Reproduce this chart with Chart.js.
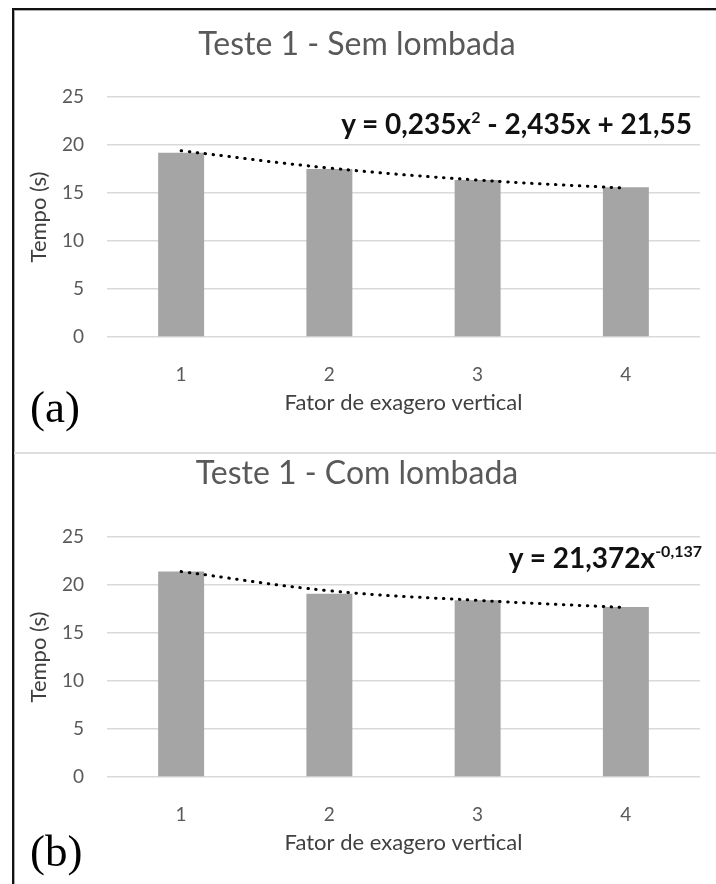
<!DOCTYPE html>
<html>
<head>
<meta charset="utf-8">
<script src="https://cdn.jsdelivr.net/npm/chart.js@4"></script>
<style>
  html, body { margin: 0; padding: 0; background: #fff; }
  body { width: 716px; height: 884px; position: relative; overflow: hidden; font-family: Lato, sans-serif; }
  .frame { position: absolute; left: 12px; top: 8px; right: 0; bottom: 0; border-top: 2px solid #111; border-left: 2px solid #111; }
  .frame::after { content: ""; position: absolute; left: 0; top: 0; right: 0; bottom: 0; border-top: 1px solid #aaa; border-left: 1px solid #aaa; }
  .divider { position: absolute; left: 14px; right: 0; top: 452px; height: 2px; background: #dedede; }
  .panel { position: absolute; left: 14px; width: 702px; }
  .eq { position: absolute; font-weight: bold; color: #111; white-space: nowrap; font-size: 28px; line-height: 1; }
  .eq sup { font-size: 16px; vertical-align: 11px; }
  .tag { position: absolute; left: 30px; font-family: "Liberation Serif", serif; font-size: 45px; line-height: 1; color: #000; }
</style>
</head>
<body>
<div class="frame"></div>
<div class="panel" style="top:10px;height:440px"><canvas id="chartA"></canvas></div>
<div class="divider"></div>
<div class="panel" style="top:450px;height:434px"><canvas id="chartB"></canvas></div>
<div class="eq" style="right:24px;top:109px">y = 0,235x<sup>2</sup> - 2,435x + 21,55</div>
<div class="eq" style="right:14px;top:543px">y = 21,372x<sup>-0,137</sup></div>
<div class="tag" style="top:385px">(a)</div>
<div class="tag" style="top:829px">(b)</div>
<script>
// fator de exagero vertical
const fatores = ["1", "2", "3", "4"];
const yTicks = [0, 5, 10, 15, 20, 25];

// Teste 1 - Sem lombada
const tempoSem = [19.2, 17.5, 16.35, 15.6];
const trendSem = [19.4, 17.6, 16.35, 15.5];

// Teste 1 - Com lombada
const tempoCom = [21.4, 19.1, 18.4, 17.7];
const trendCom = [21.4, 19.4, 18.4, 17.65];

const gray = "#595959";

function makeChart(id, titulo, tempos, trend, titlePad, xTitlePad, xHeight) {
    const ctx = document.getElementById(id).getContext("2d");
    return new Chart(ctx, {
        type: "bar",
        data: {
            labels: fatores,
            datasets: [{
                type: "line",
                data: trend,
                borderColor: "#000",
                borderWidth: 3,
                borderDash: [0.5, 7.5],
                borderCapStyle: "round",
                pointRadius: 0,
                tension: 0.4,
                fill: false,
                order: 0
            }, {
                data: tempos,
                backgroundColor: "#a5a5a5",
                barPercentage: 0.31,
                categoryPercentage: 1,
                order: 1
            }]
        },
        options: {
            responsive: true,
            maintainAspectRatio: false,
            animation: false,
            layout: { padding: { left: 0, right: 16, top: 0, bottom: 0 } },
            plugins: {
                legend: { display: false },
                tooltip: { enabled: false },
                title: {
                    display: true,
                    text: titulo,
                    color: gray,
                    font: { family: "Lato", size: 32, weight: "normal" },
                    padding: titlePad
                }
            },
            scales: {
                x: {
                    grid: { display: false },
                    border: { display: false },
                    ticks: { color: gray, font: { family: "Lato", size: 19 }, padding: 18 },
                    title: {
                        display: true,
                        text: "Fator de exagero vertical",
                        color: "#404040",
                        font: { family: "Lato", size: 22 },
                        padding: { top: 0, bottom: xTitlePad }
                    },
                    afterFit: s => { s.height = xHeight; }
                },
                y: {
                    min: 0,
                    max: 25,
                    afterBuildTicks: s => { s.ticks = yTicks.map(v => ({ value: v })); },
                    grid: { color: "#d9d9d9", lineWidth: 1.5, drawTicks: false },
                    border: { display: false },
                    ticks: { color: gray, font: { family: "Lato", size: 19 }, padding: 23 },
                    title: {
                        display: true,
                        text: "Tempo (s)",
                        color: "#404040",
                        font: { family: "Lato", size: 22 },
                        padding: { top: 12, bottom: 0 }
                    },
                    afterFit: s => { s.width = 93; }
                }
            }
        }
    });
}

makeChart("chartA", "Teste 1 - Sem lombada", tempoSem, trendSem, { top: 15.8, bottom: 32.8 }, 34, 113);
makeChart("chartB", "Teste 1 - Com lombada", tempoCom, trendCom, { top: 4, bottom: 44.6 }, 28, 107);
</script>
</body>
</html>
